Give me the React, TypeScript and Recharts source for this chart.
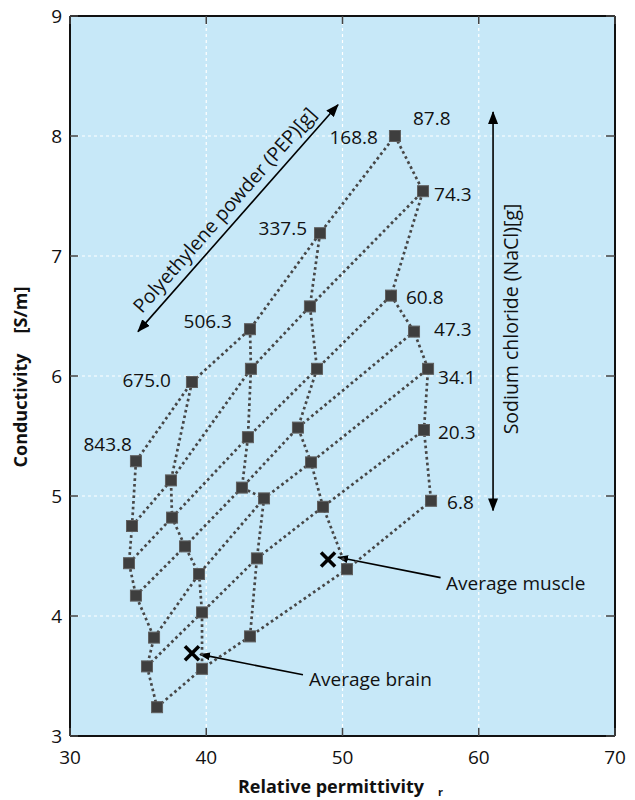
import React from "react";
import {
  ScatterChart,
  Scatter,
  XAxis,
  YAxis,
  CartesianGrid,
  ReferenceLine,
  ReferenceDot,
} from "recharts";

const pepLevels = ["843.8", "675.0", "506.3", "337.5", "168.8"];
const naclLevels = ["87.8", "74.3", "60.8", "47.3", "34.1", "20.3", "6.8"];

// relative permittivity / conductivity for each PEP amount, NaCl 87.8 -> 6.8
const eps843 = [34.84, 34.55, 34.33, 34.84, 36.17, 35.65, 36.39];
const sig843 = [5.29, 4.75, 4.44, 4.17, 3.82, 3.58, 3.24];
const eps675 = [38.95, 37.41, 37.49, 38.44, 39.47, 39.69, 39.69];
const sig675 = [5.95, 5.13, 4.82, 4.58, 4.35, 4.03, 3.56];
const eps506 = [43.21, 43.28, 43.06, 42.62, 44.24, 43.72, 43.21];
const sig506 = [6.39, 6.06, 5.49, 5.07, 4.98, 4.48, 3.83];
const eps337 = [48.35, 47.61, 48.13, 46.73, 47.69, 48.57, 50.33];
const sig337 = [7.19, 6.58, 6.06, 5.57, 5.28, 4.91, 4.39];
const eps168 = [53.85, 55.91, 53.56, 55.25, 56.28, 55.98, 56.5];
const sig168 = [8.0, 7.54, 6.67, 6.37, 6.06, 5.55, 4.96];

const muscle = [{ x: 48.94, y: 4.47 }];
const brain = [{ x: 38.95, y: 3.69 }];

const xTicks = [30, 40, 50, 60, 70];
const yTicks = [3, 4, 5, 6, 7, 8, 9];

// label nudges in px (dx, dy) from the point they belong to
const pepLabelOffset = [[-4, -17], [-21, -2], [-18, -8], [-13, -5], [-17, 1]];
const naclLabelOffset = [[18, -18], [11, 3], [15, 2], [20, -2], [10, 8], [14, 2], [16, 1]];

const FONT = "'Open Sans', sans-serif";
const BG = "#c7e8f8";
const DOT_LINE = { stroke: "#474747", strokeWidth: 2.7, strokeDasharray: "2.7 3" };

const epsTable = [eps843, eps675, eps506, eps337, eps168];
const sigTable = [sig843, sig675, sig506, sig337, sig168];

const pepChains = epsTable.map((eps, i) =>
  eps.map((x, j) => ({ x, y: sigTable[i][j], pep: pepLevels[i], nacl: naclLevels[j] }))
);
const naclRows = naclLevels.map((_, j) => pepChains.map((chain) => chain[j]));

const squareShape = (p: any) => (
  <rect x={p.cx - 5.5} y={p.cy - 5.5} width={11} height={11} fill="#3e3e3e" stroke="#5f5f5f" strokeWidth={1} />
);
const noShape = () => <g />;
const crossShape = (p: any) => (
  <g stroke="#000" strokeWidth={3.6}>
    <line x1={p.cx - 7} y1={p.cy - 7} x2={p.cx + 7} y2={p.cy + 7} />
    <line x1={p.cx - 7} y1={p.cy + 7} x2={p.cx + 7} y2={p.cy - 7} />
  </g>
);

const textAt =
  (text: string, dx: number, dy: number, anchor: string, rotate = 0, size = 19) =>
  (props: any) => {
    const vb = props.viewBox || {};
    const x = vb.x + dx;
    const y = vb.y + dy;
    return (
      <text
        x={x}
        y={y}
        dy="0.36em"
        textAnchor={anchor}
        fontSize={size}
        fontFamily={FONT}
        fill="#111"
        transform={rotate ? `rotate(${rotate} ${x} ${y})` : undefined}
      >
        {text}
      </text>
    );
  };

const arrowShape = (start: string | null, end: string, width: number) => (p: any) => (
  <line
    x1={p.x1}
    y1={p.y1}
    x2={p.x2}
    y2={p.y2}
    stroke="#000"
    strokeWidth={width}
    markerStart={start ? `url(#${start})` : undefined}
    markerEnd={`url(#${end})`}
  />
);

const BottomTick = (p: any) => (
  <g>
    <line x1={p.x} y1={p.y} x2={p.x} y2={p.y - 8} stroke="#444" strokeWidth={1.5} />
    <text x={p.x} y={p.y + 28} textAnchor="middle" fontSize={19} fontFamily={FONT} fill="#111">
      {p.payload.value}
    </text>
  </g>
);
const TopTick = (p: any) => (
  <line x1={p.x} y1={p.y} x2={p.x} y2={p.y + 8} stroke="#444" strokeWidth={1.5} />
);
const LeftTick = (p: any) => (
  <g>
    <line x1={p.x} y1={p.y} x2={p.x + 8} y2={p.y} stroke="#444" strokeWidth={1.5} />
    <text x={p.x - 8} y={p.y} dy="0.36em" textAnchor="end" fontSize={19} fontFamily={FONT} fill="#111">
      {p.payload.value}
    </text>
  </g>
);
const RightTick = (p: any) => (
  <line x1={p.x} y1={p.y} x2={p.x - 9} y2={p.y} stroke="#444" strokeWidth={1.5} />
);

const xTitle = (props: any) => {
  const vb = props.viewBox;
  return (
    <text
      x={vb.x + vb.width / 2 - 2}
      y={vb.y + 57}
      textAnchor="middle"
      fontSize={18}
      fontWeight="bold"
      fontFamily={FONT}
      fill="#111"
    >
      <tspan>Relative permittivity</tspan>
      <tspan dx={14} dy={3} fontSize={11}>r</tspan>
    </text>
  );
};

const yTitle = (props: any) => {
  const vb = props.viewBox;
  const x = vb.x + 7;
  const y = vb.y + vb.height / 2 + 1;
  return (
    <text
      x={x}
      y={y}
      textAnchor="middle"
      fontSize={18}
      fontWeight="bold"
      fontFamily={FONT}
      fill="#111"
      transform={`rotate(-90 ${x} ${y})`}
    >
      <tspan>Conductivity</tspan>
      <tspan dx={20}>[S/m]</tspan>
    </text>
  );
};

export default function App() {
  return (
    <div style={{ position: "absolute", left: 0, top: 0 }}>
      <svg width={0} height={0} style={{ position: "absolute" }}>
        <defs>
          <marker id="headBig" viewBox="0 0 13 10" refX="12" refY="5" markerWidth="13" markerHeight="10"
            markerUnits="userSpaceOnUse" orient="auto-start-reverse">
            <path d="M0,0 L13,5 L0,10 z" fill="#000" />
          </marker>
          <marker id="headSmall" viewBox="0 0 11 8" refX="10" refY="4" markerWidth="11" markerHeight="8"
            markerUnits="userSpaceOnUse" orient="auto">
            <path d="M0,0 L11,4 L0,8 z" fill="#000" />
          </marker>
        </defs>
      </svg>
      <ScatterChart width={635} height={800} margin={{ top: 14, right: 18, bottom: 34, left: 20 }}>
        <CartesianGrid fill={BG} stroke="#ffffff" strokeDasharray="3 3" strokeWidth={1.2} />
        <XAxis
          type="number"
          dataKey="x"
          domain={[30, 70]}
          ticks={xTicks}
          interval={0}
          allowDataOverflow
          height={30}
          tickSize={0}
          tickMargin={0}
          tickLine={false}
          axisLine={{ stroke: "#111", strokeWidth: 2 }}
          tick={(p: any) => <BottomTick {...p} />}
          label={xTitle}
        />
        <XAxis
          xAxisId="top"
          orientation="top"
          type="number"
          dataKey="x"
          domain={[30, 70]}
          ticks={xTicks}
          interval={0}
          allowDataOverflow
          height={2}
          tickSize={0}
          tickMargin={0}
          tickLine={false}
          axisLine={{ stroke: "#111", strokeWidth: 2 }}
          tick={(p: any) => <TopTick {...p} />}
        />
        <YAxis
          type="number"
          dataKey="y"
          domain={[3, 9]}
          ticks={yTicks}
          interval={0}
          allowDataOverflow
          width={50}
          tickSize={0}
          tickMargin={0}
          tickLine={false}
          axisLine={{ stroke: "#111", strokeWidth: 2 }}
          tick={(p: any) => <LeftTick {...p} />}
          label={yTitle}
        />
        <YAxis
          yAxisId="right"
          orientation="right"
          type="number"
          dataKey="y"
          domain={[3, 9]}
          ticks={yTicks}
          interval={0}
          allowDataOverflow
          width={2}
          tickSize={0}
          tickMargin={0}
          tickLine={false}
          axisLine={{ stroke: "#111", strokeWidth: 2 }}
          tick={(p: any) => <RightTick {...p} />}
        />

        {naclRows.map((row, j) => (
          <Scatter
            key={`nacl-${j}`}
            data={row}
            line={DOT_LINE}
            lineType="joint"
            shape={noShape}
            isAnimationActive={false}
          />
        ))}
        {pepChains.map((chain, i) => (
          <Scatter
            key={`pep-${i}`}
            data={chain}
            line={DOT_LINE}
            lineType="joint"
            shape={squareShape}
            isAnimationActive={false}
          />
        ))}
        <Scatter data={muscle} shape={crossShape} isAnimationActive={false} />
        <Scatter data={brain} shape={crossShape} isAnimationActive={false} />

        {naclRows[0].map((pt, i) => (
          <ReferenceDot
            key={`pl-${i}`}
            x={pt.x}
            y={pt.y}
            r={0}
            fill="none"
            stroke="none"
            label={textAt(pepLevels[i], pepLabelOffset[i][0], pepLabelOffset[i][1], "end")}
          />
        ))}
        {pepChains[4].map((pt, j) => (
          <ReferenceDot
            key={`nl-${j}`}
            x={pt.x}
            y={pt.y}
            r={0}
            fill="none"
            stroke="none"
            label={textAt(naclLevels[j], naclLabelOffset[j][0], naclLabelOffset[j][1], "start")}
          />
        ))}

        <ReferenceLine
          segment={[{ x: 34.99, y: 6.37 }, { x: 49.67, y: 8.26 }]}
          shape={arrowShape("headBig", "headBig", 1.6)}
        />
        <ReferenceLine
          segment={[{ x: 61.05, y: 4.88 }, { x: 61.05, y: 8.2 }]}
          shape={arrowShape("headBig", "headBig", 1.6)}
        />
        <ReferenceLine
          segment={[{ x: 57.2, y: 4.32 }, { x: 49.67, y: 4.49 }]}
          shape={arrowShape(null, "headSmall", 1.6)}
        />
        <ReferenceLine
          segment={[{ x: 47.1, y: 3.51 }, { x: 39.54, y: 3.68 }]}
          shape={arrowShape(null, "headSmall", 1.6)}
        />

        <ReferenceDot x={41.71} y={7.35} r={0} fill="none" stroke="none"
          label={textAt("Polyethylene powder (PEP)[g]", -5, -4, "middle", -48.6, 19.5)} />
        <ReferenceDot x={62.37} y={6.475} r={0} fill="none" stroke="none"
          label={textAt("Sodium chloride (NaCl)[g]", 0, 0, "middle", -90, 19.5)} />
        <ReferenceDot x={57.6} y={4.27} r={0} fill="none" stroke="none"
          label={textAt("Average muscle", 0, 0, "start")} />
        <ReferenceDot x={47.54} y={3.475} r={0} fill="none" stroke="none"
          label={textAt("Average brain", 0, 0, "start")} />
      </ScatterChart>
    </div>
  );
}
